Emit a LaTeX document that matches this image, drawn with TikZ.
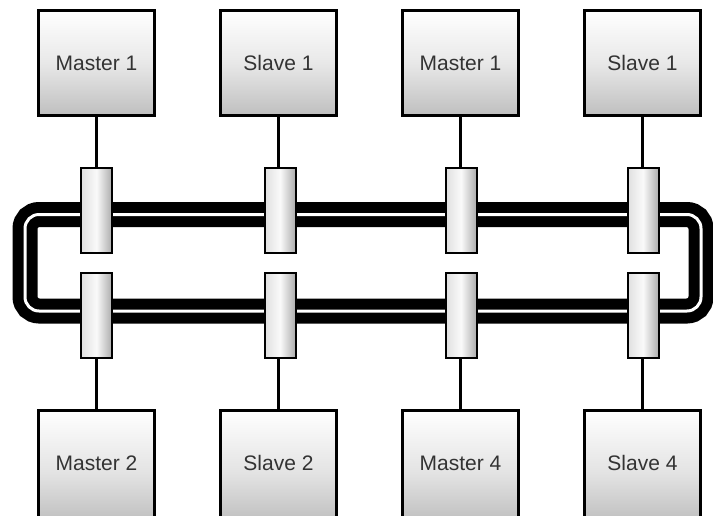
\documentclass[tikz,border=0pt]{standalone}
\usepackage{fontspec}
\setmainfont{Liberation Sans}
\begin{document}
\begin{tikzpicture}[x=1pt,y=-1pt,
  unitbox/.style={draw=black, line width=2.5pt, minimum width=116pt, minimum height=105pt,
    inner sep=0pt, top color=white, bottom color=gray!50, middle color=gray!18,
    font=\fontsize{21}{24}\selectfont, text=black!80},
  lowbox/.style={unitbox, minimum height=125pt, top color=white, bottom color=gray!58, middle color=gray!22},
  tapbox/.style={draw=black, line width=2pt, minimum width=31pt, minimum height=85pt,
    inner sep=0pt, left color=gray!25, right color=gray!65, middle color=gray!4},
  stem/.style={draw=black, line width=3pt}]
\useasboundingbox (0,0) rectangle (713,515);
\clip (0,0) rectangle (713,515);
% ring
\draw[line width=25pt, rounded corners=14pt] (25,214.5) rectangle (701,311);
\draw[white, line width=3pt, rounded corners=14pt] (25,214.5) rectangle (701,311);
% top units
\node[unitbox] (t1) at (96.5,63) {Master 1};
\node[unitbox] (t2) at (278.5,63) {Slave 1};
\node[unitbox] (t3) at (460.5,63) {Master 1};
\node[unitbox] (t4) at (642.5,63) {Slave 1};
% bottom units (cut off by the lower edge)
\node[lowbox] (b1) at (96.5,473) {\raisebox{20pt}{Master 2}};
\node[lowbox] (b2) at (278.5,473) {\raisebox{20pt}{Slave 2}};
\node[lowbox] (b3) at (460.5,473) {\raisebox{20pt}{Master 4}};
\node[lowbox] (b4) at (642.5,473) {\raisebox{20pt}{Slave 4}};
% taps
\foreach \i/\xx in {1/96.5,2/280,3/461,4/643}{
  \node[tapbox] (ct\i) at (\xx,210.5) {};
  \node[tapbox] (cb\i) at (\xx,315.5) {};
}
\foreach \i in {1,2,3,4}{
  \draw[stem] (t\i.south) -- (t\i.south |- ct\i.north);
  \draw[stem] (b\i.north) -- (b\i.north |- cb\i.south);
}
\end{tikzpicture}
\end{document}
